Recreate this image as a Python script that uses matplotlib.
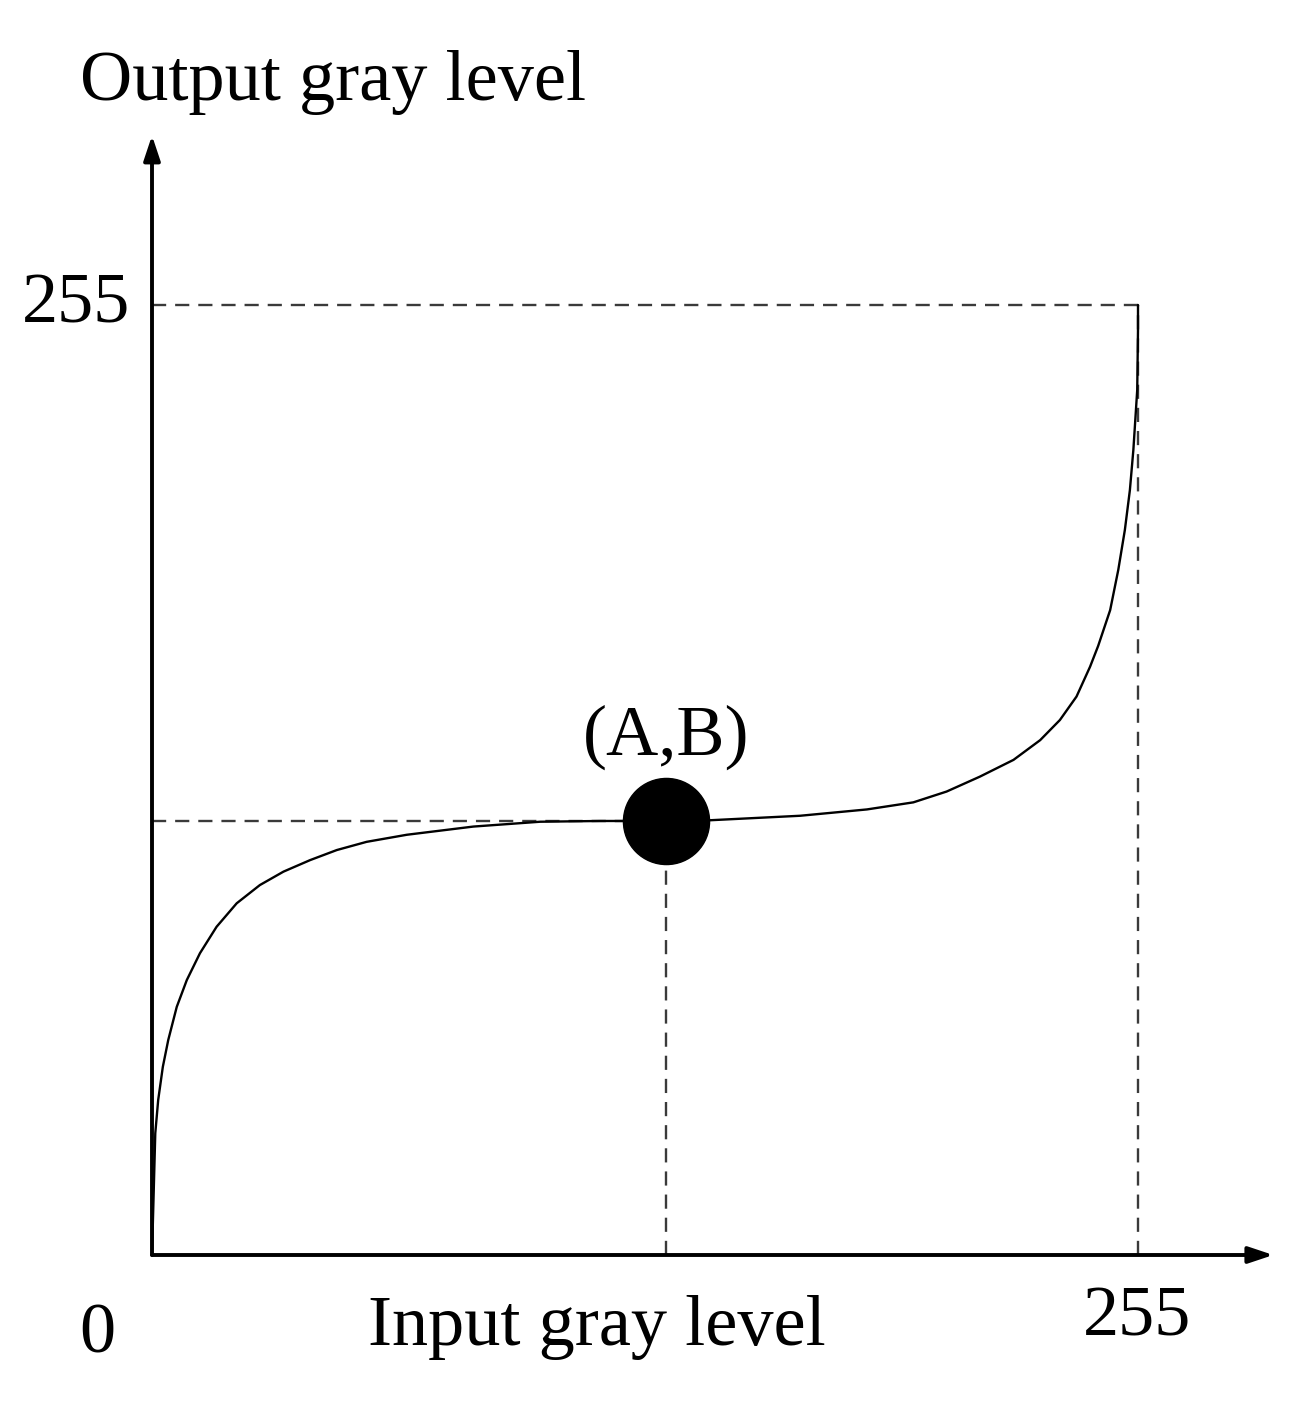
import matplotlib
matplotlib.use("Agg")
import matplotlib.pyplot as plt

# curve (input level -> output level)
curve_x = [0, 0.85, 1.6, 2.8, 4.2, 6.4, 9.0, 12.4, 16.7, 21.9, 27.9, 34.0, 40.9, 47.8,
           55.5, 65.9, 83.1, 100.4, 115.9, 133.0, 144.4, 167.6, 184.9, 196.9, 205.5,
           214.1, 222.8, 229.7, 234.8, 239.1, 242.6, 244.7, 247.8, 249.9, 251.6, 252.9,
           253.8, 254.8, 255.0, 255.0]
curve_y = [0, 32.7, 41.6, 50.5, 57.7, 66.6, 73.8, 81.0, 88.1, 94.4, 99.3, 102.9, 106.0, 108.7,
           110.9, 112.8, 115.0, 116.3, 116.5, 116.5, 116.7, 117.9, 119.6, 121.5, 124.4,
           128.4, 132.9, 138.2, 143.6, 149.9, 157.9, 163.5, 173.1, 183.9, 194.6, 205.3,
           216.1, 232.2, 248.3, 255.0]
point_A = 133.0
point_B = 116.5
max_level = 255

plt.rcParams['font.family'] = ['Liberation Serif', 'DejaVu Serif']

fig = plt.figure(figsize=(12.99, 14.04), dpi=100)
ax = fig.add_axes([152 / 1299, 149 / 1404, 986 / 1299, 950 / 1404])
ax.set_xlim(0, max_level)
ax.set_ylim(0, max_level)
ax.axis('off')

dash = dict(color='#3a3a3a', lw=1.7, linestyle=(0, (6, 3.8)), clip_on=False)
ax.plot([0, max_level], [max_level, max_level], **dash)
ax.plot([max_level, max_level], [0, max_level], **dash)
ax.plot([0, point_A], [point_B, point_B], **dash)
ax.plot([point_A, point_A], [0, point_B], **dash)

ax.plot(curve_x, curve_y, color='black', lw=1.7, clip_on=False,
        solid_joinstyle='round', solid_capstyle='round')
ax.plot([point_A], [point_B], 'o', color='black', markersize=62, clip_on=False)

# axes with arrows
arrow = dict(arrowstyle='-|>,head_length=1.5,head_width=0.5', color='black', lw=2.8,
             shrinkA=0, shrinkB=0)
ax.annotate('', xy=(290, 0), xytext=(0, 0), arrowprops=arrow, annotation_clip=False)
ax.annotate('', xy=(0, 300.5), xytext=(0, 0), arrowprops=arrow, annotation_clip=False)

fs = 52
ax.text(-18.6, 310, 'Output gray level', fontsize=fs, ha='left', va='baseline')
ax.text(-5.5, 255, '255', fontsize=fs, ha='right', va='center')
ax.text(-14.2, -21.5, '0', fontsize=fs, ha='center', va='center')
ax.text(55.9, -24.2, 'Input gray level', fontsize=fs, ha='left', va='baseline')
ax.text(254.7, -17.0, '255', fontsize=fs, ha='center', va='center')
ax.text(point_A, 134.2, '(A,B)', fontsize=fs, ha='center', va='baseline')

fig.savefig('out.png', dpi=100)
